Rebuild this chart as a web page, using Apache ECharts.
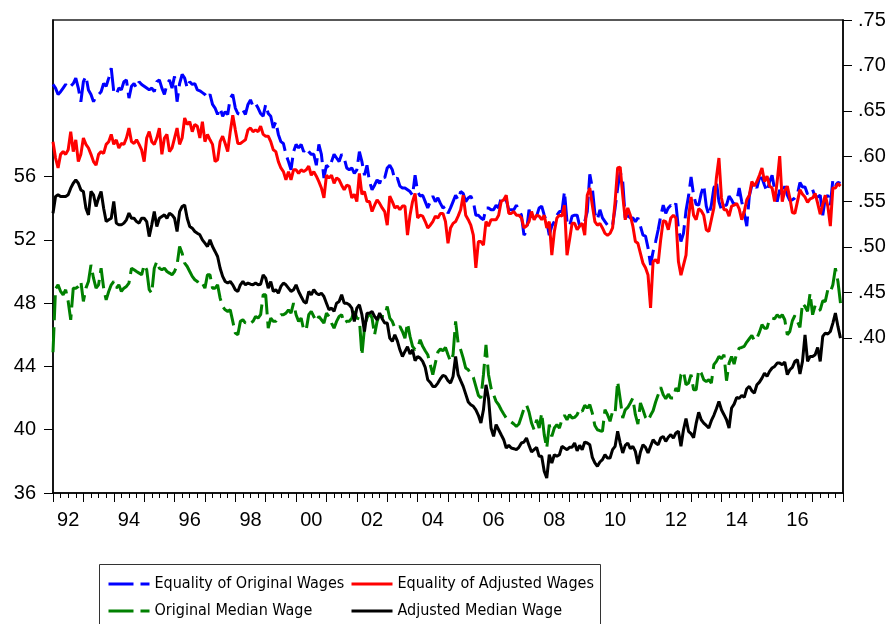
<!DOCTYPE html>
<html>
<head>
<meta charset="UTF-8">
<title>Wage Equality and Median Wages</title>
<script src="https://cdn.jsdelivr.net/npm/echarts/dist/echarts.min.js"></script>
</head>
<body style="margin:0;background:#fff;">
<div id="chart" style="width:889px;height:624px;"></div>
<script type="text/javascript">
// monthly data, 1992M01 - 2017M12 (12 values per row)
var eqOrig = [
  .679,.675,.668,.671,.675,.679,.675,.677,.680,.686,.675,.660, // 1992
  .682,.688,.673,.668,.660,.666,.668,.671,.680,.677,.686,.697,
  .671,.668,.675,.673,.682,.684,.664,.677,.680,.675,.682,.679,
  .677,.675,.673,.675,.671,.682,.684,.675,.668,.679,.684,.675,
  .688,.660,.680,.690,.686,.675,.682,.679,.680,.673,.672,.670, // 1996
  .668,.664,.668,.657,.653,.646,.653,.644,.649,.646,.664,.668,
  .653,.647,.646,.651,.646,.657,.662,.655,.658,.653,.647,.644,
  .657,.647,.644,.631,.638,.624,.616,.614,.602,.594,.585,.605,
  .613,.609,.613,.605,.609,.605,.602,.602,.590,.613,.602,.576, // 2000
  .590,.587,.594,.602,.598,.594,.602,.598,.587,.585,.587,.581,
  .585,.605,.594,.579,.590,.572,.563,.568,.574,.570,.578,.576,
  .587,.590,.585,.574,.576,.567,.565,.565,.563,.561,.557,.579,
  .561,.556,.557,.550,.543,.550,.556,.550,.554,.548,.543,.545, // 2004
  .537,.543,.550,.557,.552,.561,.559,.550,.554,.556,.550,.535,
  .535,.532,.530,.543,.543,.541,.541,.546,.543,.554,.550,.552,
  .541,.541,.541,.546,.541,.535,.513,.517,.541,.532,.530,.534,
  .543,.545,.535,.528,.513,.523,.528,.535,.539,.539,.561,.528, // 2008
  .523,.534,.535,.535,.523,.526,.528,.539,.580,.565,.537,.530,
  .541,.532,.528,.524,.526,.524,.543,.565,.583,.572,.532,.535,
  .532,.532,.528,.532,.523,.513,.512,.499,.480,.495,.506,.519,
  .534,.546,.537,.543,.546,.543,.548,.520,.506,.515,.540,.556, // 2012
  .577,.557,.547,.546,.559,.568,.545,.535,.546,.565,.572,.550,
  .541,.546,.546,.556,.552,.546,.550,.565,.550,.537,.523,.556,
  .568,.570,.565,.576,.576,.568,.561,.572,.579,.563,.550,.563,
  .557,.567,.557,.551,.552,.554,.558,.571,.566,.566,.558,.562, // 2016
  .563,.555,.555,.557,.535,.554,.557,.546,.574,.568,.571,.570
];
var eqAdj = [
  .616,.598,.587,.602,.605,.602,.607,.627,.605,.618,.594,.602, // 1992
  .620,.613,.609,.602,.594,.590,.602,.605,.603,.613,.616,.624,
  .613,.618,.609,.614,.613,.620,.631,.616,.614,.618,.613,.607,
  .594,.620,.627,.616,.613,.620,.631,.602,.620,.624,.605,.609,
  .620,.631,.613,.620,.642,.635,.638,.627,.635,.633,.620,.638, // 1996
  .616,.624,.618,.613,.594,.596,.616,.622,.614,.605,.627,.645,
  .629,.614,.614,.616,.618,.629,.631,.627,.629,.627,.633,.624,
  .622,.622,.616,.607,.605,.594,.587,.583,.574,.583,.574,.585,
  .585,.581,.585,.583,.585,.589,.579,.583,.578,.572,.565,.554, // 2000
  .579,.576,.579,.570,.576,.574,.568,.563,.568,.567,.554,.558,
  .550,.581,.558,.561,.550,.550,.539,.546,.552,.548,.543,.539,
  .524,.556,.550,.543,.545,.541,.545,.545,.513,.535,.550,.559,
  .532,.535,.534,.528,.521,.524,.528,.534,.532,.537,.537,.528, // 2004
  .504,.521,.526,.528,.534,.541,.557,.535,.530,.524,.513,.477,
  .506,.506,.502,.528,.523,.530,.530,.530,.535,.550,.552,.557,
  .537,.537,.539,.535,.535,.532,.521,.523,.528,.539,.530,.535,
  .534,.530,.535,.521,.528,.491,.517,.532,.535,.534,.546,.491, // 2008
  .508,.526,.526,.519,.523,.526,.513,.557,.565,.546,.528,.524,
  .526,.521,.515,.513,.515,.521,.550,.587,.588,.557,.530,.543,
  .535,.523,.506,.504,.493,.482,.477,.469,.433,.484,.486,.482,
  .508,.529,.528,.519,.532,.535,.532,.484,.469,.480,.491,.532, // 2012
  .555,.535,.530,.542,.540,.535,.519,.517,.530,.543,.576,.598,
  .554,.541,.541,.534,.545,.546,.548,.542,.530,.539,.552,.557,
  .572,.567,.572,.579,.587,.572,.578,.567,.565,.550,.572,.600,
  .550,.562,.567,.554,.538,.537,.550,.563,.558,.555,.549,.553, // 2016
  .554,.559,.548,.536,.547,.557,.545,.523,.565,.565,.570,.567
];
var origMedian = [
  44.9,48.9,49.16,48.74,48.53,48.85,48.11,46.95,48.95,48.95,49.06,49.37, // 1992
  48.11,48.95,49.37,50.42,49.58,48.95,49.16,50.21,48.95,48.21,48.74,49.16,
  49.37,48.95,49.16,48.74,48.95,49.06,49.27,50.21,50.11,50.0,49.9,49.79,
  50.42,50.11,48.85,48.63,50.21,50.63,50.21,50.11,50.21,50.0,49.9,49.79,
  50.0,50.42,51.58,51.16,50.53,50.32,50.0,49.69,49.48,49.37,49.16,49.27, // 1996
  48.95,49.79,49.79,48.95,48.95,49.16,48.32,47.79,47.58,47.48,47.58,46.85,
  46.11,46.0,46.85,46.95,46.74,46.85,46.74,46.85,47.16,47.06,47.27,48.53,
  48.53,46.42,47.06,46.85,46.85,47.06,47.27,47.27,47.37,47.58,47.37,48.0,
  47.27,46.85,47.06,46.32,46.32,47.27,47.48,47.16,46.85,47.16,46.95,46.74, // 2000
  47.37,47.16,46.74,46.42,46.85,47.16,47.27,46.74,46.85,46.85,47.06,47.48,
  47.06,47.0,44.7,46.42,47.06,47.37,47.06,46.0,46.85,47.27,47.16,47.16,
  47.79,47.06,46.85,46.42,46.42,46.53,46.21,45.79,46.74,45.9,45.27,45.06,
  45.16,45.69,45.27,44.99,44.74,44.11,43.48,44.21,44.91,45.1,44.99,45.2, // 2004
  44.74,44.32,44.74,46.85,45.48,45.06,44.53,43.9,43.79,43.52,43.31,42.74,
  42.17,42.0,43.48,45.37,43.48,42.63,42.21,41.79,41.58,41.26,40.99,40.74,
  40.57,40.49,40.36,40.21,40.36,40.84,41.33,41.58,41.12,40.42,40.0,40.63,
  40.11,41.05,39.69,38.84,40.32,39.58,40.11,40.32,40.11,40.63,40.91,40.63, // 2008
  40.95,40.74,40.78,40.95,41.33,41.16,41.54,41.37,41.58,41.05,40.27,40.0,
  39.94,39.9,41.26,40.95,40.53,41.16,41.05,43.05,41.95,40.74,41.26,41.41,
  41.69,42.0,40.95,40.36,41.69,41.26,40.78,40.57,40.91,41.2,41.75,42.21,
  42.68,42.21,41.96,42.25,42.0,42.0,42.63,42.42,43.48,43.69,42.84,42.95, // 2012
  43.48,42.53,42.53,43.79,43.58,43.16,43.05,43.16,42.95,44.11,44.32,44.63,
  44.49,44.74,43.1,44.21,44.63,44.15,44.84,45.16,45.2,45.27,45.54,45.75,
  45.96,45.62,45.79,46.17,46.64,46.42,46.42,47.01,47.06,47.01,47.27,47.1,
  47.27,46.95,46.0,46.21,46.89,47.22,46.85,46.47,48.0,47.79,47.48,48.63, // 2016
  47.27,47.85,47.52,47.58,48.15,48.11,48.85,48.7,49.16,50.21,49.37,48.0
];
var adjMedian = [
  53.69,54.74,54.85,54.74,54.74,54.74,54.85,55.27,55.58,55.79,55.58,55.16, // 1992
  55.06,54.0,53.58,55.06,54.85,54.11,54.64,55.06,54.0,53.16,53.27,53.37,
  54.43,53.06,52.95,52.95,53.06,53.27,53.69,53.37,53.37,53.16,53.06,53.37,
  53.37,53.16,52.21,52.95,53.79,52.85,53.37,53.48,53.58,53.37,53.69,53.58,
  53.37,52.53,53.79,54.11,54.21,53.37,52.85,52.74,52.53,52.42,52.32,52.0, // 1996
  51.79,51.58,52.0,51.58,51.27,50.95,50.21,49.69,49.37,49.27,49.37,49.16,
  48.85,48.74,49.16,49.37,49.16,49.27,49.2,49.16,49.27,49.16,49.2,49.79,
  49.58,48.95,49.37,48.74,48.85,48.63,49.06,49.27,49.16,48.95,48.74,48.85,
  49.16,48.74,48.42,48.11,48.0,48.74,48.53,48.85,48.63,48.53,48.63,48.42, // 2000
  48.0,47.58,47.69,47.48,48.0,48.11,48.53,48.0,48.0,47.9,47.69,46.85,
  47.69,47.9,47.27,46.21,47.37,47.37,47.48,47.16,46.95,47.37,47.01,46.74,
  46.74,45.79,45.58,46.0,45.62,45.05,44.63,44.95,45.24,44.78,45.05,44.36,
  44.63,44.53,44.32,43.94,43.16,42.99,42.74,42.74,42.95,43.22,43.43,43.37, // 2004
  43.1,42.95,43.37,44.63,43.48,43.1,42.74,42.25,41.75,41.58,41.48,41.26,
  40.91,40.42,41.26,42.84,41.98,40.11,39.58,40.32,40.0,39.68,39.37,38.84,
  39.01,38.84,38.8,38.74,38.89,39.16,39.22,39.47,39.01,38.59,38.74,38.89,
  38.32,38.32,37.37,36.95,38.42,37.9,38.42,38.32,38.42,38.95,38.84,38.74, // 2008
  38.89,38.89,39.16,38.67,39.01,38.74,39.22,39.16,39.05,38.25,37.9,37.69,
  37.96,38.11,38.42,38.21,38.21,38.74,38.95,39.9,39.16,38.53,39.01,39.16,
  38.8,38.95,38.63,37.83,38.59,39.05,38.89,38.53,38.95,39.37,39.16,39.05,
  39.47,39.58,39.26,39.52,39.69,39.47,39.79,39.9,38.95,40.0,40.7,39.9, // 2012
  39.75,39.5,40.4,41.1,40.63,40.42,40.27,40.11,40.57,40.91,41.33,41.79,
  41.26,40.95,40.63,40.11,41.37,41.62,42.04,41.98,42.17,42.04,42.59,42.74,
  42.46,42.32,42.84,43.01,43.26,43.58,43.37,43.69,43.9,44.0,44.21,44.21,
  44.11,44.28,43.48,43.79,43.94,44.32,44.42,43.52,44.32,46.0,44.32,44.63, // 2016
  44.63,44.74,45.2,44.32,45.9,46.11,46.05,46.21,46.74,47.37,46.53,45.79
];

var leftTicks = [36, 40, 44, 48, 52, 56];
var rightTicks = [0.40, 0.45, 0.50, 0.55, 0.60, 0.65, 0.70, 0.75];

// month categories 1992-01 .. 2018-01 (last one closes the axis)
var months = [];
for (var y = 1992; y <= 2018; y++) {
    for (var m = 1; m <= 12; m++) {
        if (y === 2018 && m > 1) break;
        months.push(y + '-' + (m < 10 ? '0' + m : m));
    }
}

var font = "'Liberation Sans', Arial, sans-serif";
var narrow = "'Liberation Sans Narrow', 'DejaVu Sans Condensed', sans-serif";

var myChart = echarts.init(document.getElementById('chart'));

// legend: two columns, one legend each (line icon only, no symbol)
function legendColumn(names, left) {
    return {
        data: names,
        orient: 'vertical', left: left, top: 574,
        padding: 0,
        itemWidth: 41, itemHeight: 14, itemGap: 7,
        selectedMode: false,
        lineStyle: { width: 3 },
        itemStyle: { color: 'rgba(0,0,0,0)', borderWidth: 0, opacity: 0 },
        textStyle: { color: '#000', fontSize: 16, fontFamily: narrow, lineHeight: 20 }
    };
}

var option = {
    animation: false,
    grid: {
        left: 53, top: 20, width: 790, height: 473,
        show: true, borderColor: '#222', borderWidth: 1.5
    },
    legend: [
        legendColumn(['Equality of Original Wages', 'Original Median Wage'], 107),
        legendColumn(['Equality of Adjusted Wages', 'Adjusted Median Wage'], 350)
    ],
    graphic: [{
        type: 'rect',
        shape: { x: 99.5, y: 564.5, width: 501, height: 80 },
        style: { fill: 'none', stroke: '#333', lineWidth: 1 }
    }],
    xAxis: [
        {
            type: 'category',
            data: months,
            boundaryGap: false,
            axisLine: { lineStyle: { color: '#000', width: 1.5 } },
            axisTick: {
                interval: function (i) { return i % 12 === 0; },
                length: 9,
                lineStyle: { color: '#000' }
            },
            axisLabel: {
                interval: function (i) { return i % 24 === 6; },
                formatter: function (v) { return v.slice(2, 4); },
                color: '#000', fontSize: 20, fontFamily: font, margin: 17
            },
            splitLine: { show: false }
        },
        {
            // quarter ticks
            type: 'category',
            data: months,
            boundaryGap: false,
            position: 'bottom',
            axisLine: { show: false },
            axisLabel: { show: false },
            axisTick: {
                interval: function (i) { return i % 3 === 0 && i % 12 !== 0; },
                length: 5,
                lineStyle: { color: '#000' }
            },
            splitLine: { show: false }
        }
    ],
    yAxis: [
        {
            type: 'value',
            position: 'left',
            min: 36, max: 65.9,
            axisLine: { show: true, lineStyle: { color: '#000', width: 1.5 } },
            axisTick: { show: true, length: 9, customValues: leftTicks, lineStyle: { color: '#000' } },
            axisLabel: { customValues: leftTicks, color: '#000', fontSize: 20, fontFamily: font, margin: 17 },
            splitLine: { show: false }
        },
        {
            type: 'value',
            position: 'right',
            min: 0.229, max: 0.75,
            axisLine: { show: true, lineStyle: { color: '#000', width: 1.5 } },
            axisTick: { show: true, length: 9, customValues: rightTicks, lineStyle: { color: '#000' } },
            axisLabel: {
                customValues: rightTicks,
                formatter: function (v) { return '.' + Math.round(v * 100); },
                color: '#000', fontSize: 20, fontFamily: font, margin: 15
            },
            splitLine: { show: false }
        }
    ],
    series: [
        {
            name: 'Equality of Original Wages',
            type: 'line', yAxisIndex: 1, data: eqOrig,
            symbol: 'none', color: '#0000ff',
            lineStyle: { color: '#0000ff', width: 3, type: [25, 7] }
        },
        {
            name: 'Equality of Adjusted Wages',
            type: 'line', yAxisIndex: 1, data: eqAdj,
            symbol: 'none', color: '#ff0000',
            lineStyle: { color: '#ff0000', width: 3 }
        },
        {
            name: 'Original Median Wage',
            type: 'line', yAxisIndex: 0, data: origMedian,
            symbol: 'none', color: '#008000',
            lineStyle: { color: '#008000', width: 3, type: [25, 7] }
        },
        {
            name: 'Adjusted Median Wage',
            type: 'line', yAxisIndex: 0, data: adjMedian,
            symbol: 'none', color: '#000000',
            lineStyle: { color: '#000000', width: 3 }
        }
    ]
};

myChart.setOption(option);
</script>
</body>
</html>
